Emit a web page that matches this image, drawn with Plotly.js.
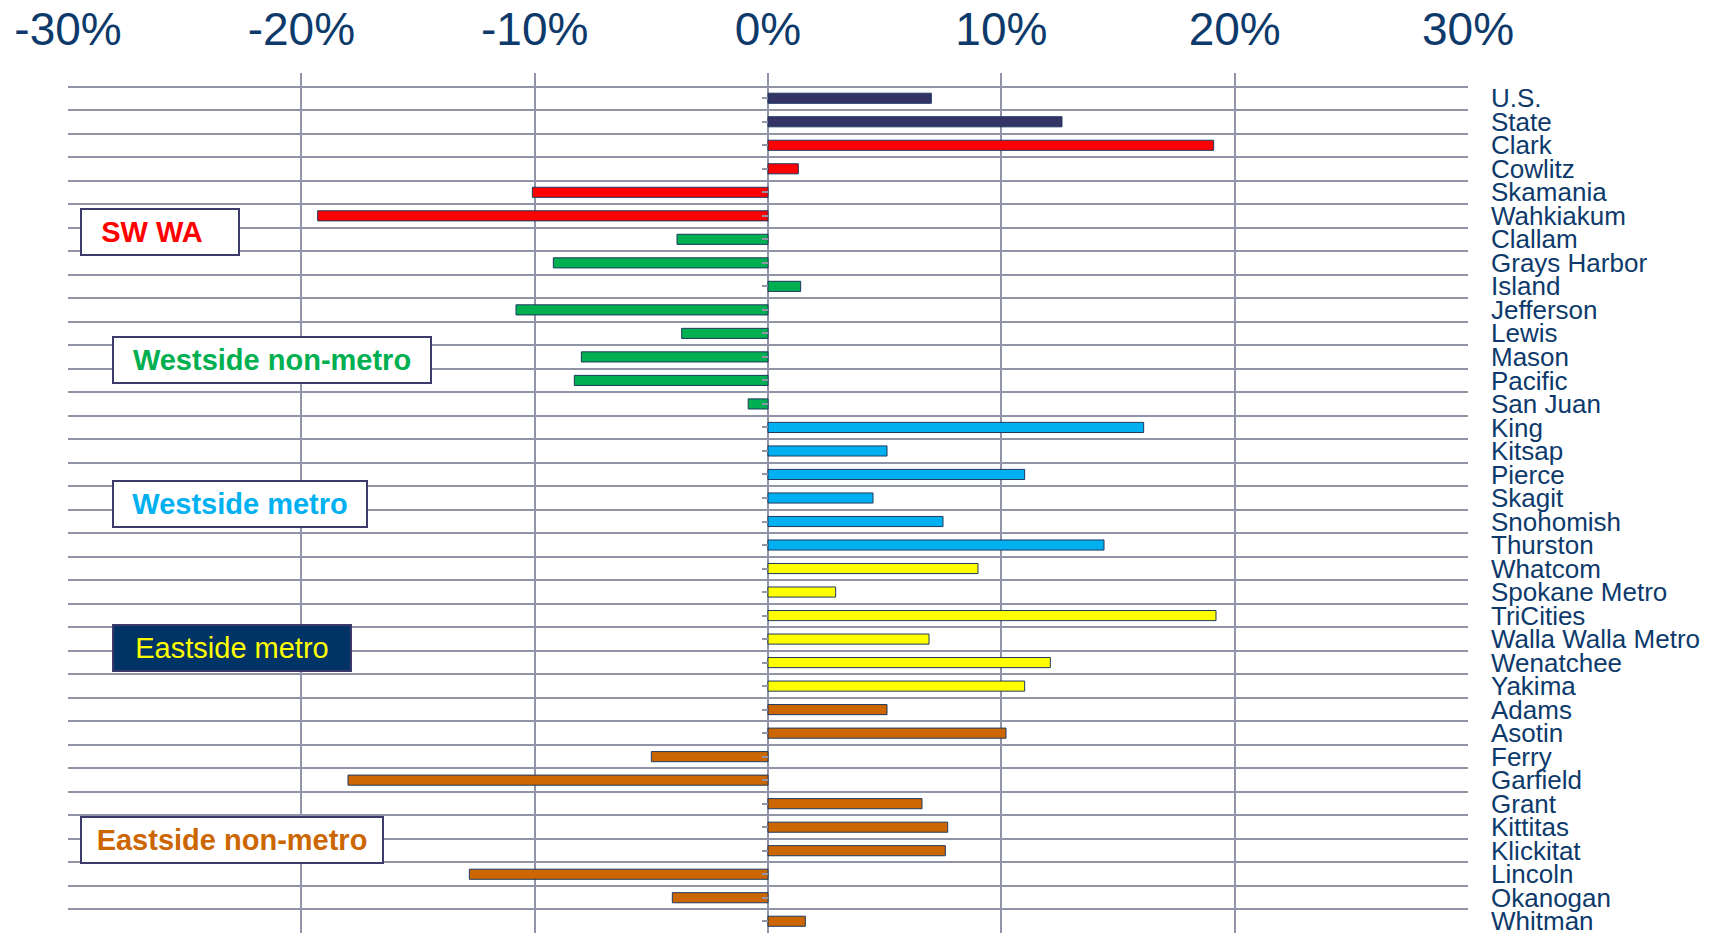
<!DOCTYPE html>
<html>
<head>
<meta charset="utf-8">
<script src="https://cdn.plot.ly/plotly-3.0.1.min.js"></script>
<style>
  html, body { margin: 0; padding: 0; background: #ffffff; }
  #chart { width: 1725px; height: 934px; }
</style>
</head>
<body>
<div id="chart"></div>
<script>
// ---- Data ----
const categories = [
  "U.S.", "State", "Clark", "Cowlitz", "Skamania", "Wahkiakum",
  "Clallam", "Grays Harbor", "Island", "Jefferson", "Lewis", "Mason", "Pacific", "San Juan",
  "King", "Kitsap", "Pierce", "Skagit", "Snohomish", "Thurston",
  "Whatcom", "Spokane Metro", "TriCities", "Walla Walla Metro", "Wenatchee", "Yakima",
  "Adams", "Asotin", "Ferry", "Garfield", "Grant", "Kittitas", "Klickitat", "Lincoln", "Okanogan", "Whitman"
];
const values = [
  0.070, 0.126, 0.191, 0.013, -0.101, -0.193,
  -0.039, -0.092, 0.014, -0.108, -0.037, -0.080, -0.083, -0.0085,
  0.161, 0.051, 0.110, 0.045, 0.075, 0.144,
  0.090, 0.029, 0.192, 0.069, 0.121, 0.110,
  0.051, 0.102, -0.050, -0.180, 0.066, 0.077, 0.076, -0.128, -0.041, 0.016
];
const groups = [
  "nation", "nation", "sw", "sw", "sw", "sw",
  "wnm", "wnm", "wnm", "wnm", "wnm", "wnm", "wnm", "wnm",
  "wm", "wm", "wm", "wm", "wm", "wm",
  "em", "em", "em", "em", "em", "em",
  "enm", "enm", "enm", "enm", "enm", "enm", "enm", "enm", "enm", "enm"
];
const groupColors = {
  nation: "#333366",
  sw: "#ff0000",
  wnm: "#00b050",
  wm: "#00b0f0",
  em: "#ffff00",
  enm: "#cc6600"
};
const tickValues = [-0.3, -0.2, -0.1, 0, 0.1, 0.2, 0.3];
const tickLabels = ["-30%", "-20%", "-10%", "0%", "10%", "20%", "30%"];
const groupLabels = ["SW WA", "Westside non-metro", "Westside metro", "Eastside metro", "Eastside non-metro"];

// ---- Layout geometry ----
const W = 1725, H = 934;
const M = { l: 68, r: 257, t: 73, b: 1 };
const pw = W - M.l - M.r, ph = H - M.t - M.b;
const px = x => (x - M.l) / pw;
const py = y => 1 - (y - M.t) / ph;

const navy = "#0d3a6b";
const gridCol = "#9094a6";

const barTrace = {
  type: "bar",
  orientation: "h",
  x: values,
  y: categories,
  marker: {
    color: groups.map(g => groupColors[g]),
    line: { color: "#1f3a60", width: 1 }
  },
  hoverinfo: "y+x",
  showlegend: false
};
// invisible trace to activate the small tick axis at 0%
const tickTrace = {
  type: "scatter",
  mode: "none",
  x: values,
  y: categories,
  yaxis: "y2",
  hoverinfo: "skip",
  showlegend: false
};

function box(text, left, top, right, bottom, color, bold, bg, shift) {
  return {
    xref: "paper", yref: "paper",
    x: px(left), y: py(top),
    xanchor: "left", yanchor: "top",
    text: bold ? "<b>" + text + "</b>" + (shift || "") : text + (shift || ""),
    showarrow: false,
    font: { family: "Liberation Sans, Arial, sans-serif", size: 29, color: color },
    bgcolor: bg,
    bordercolor: "#3b3a6b",
    borderwidth: 2,
    borderpad: 0,
    width: right - left - 4,
    height: bottom - top - 4,
    align: "center",
    valign: "middle"
  };
}

const layout = {
  width: W, height: H,
  margin: M,
  paper_bgcolor: "#ffffff",
  plot_bgcolor: "#ffffff",
  bargap: 0.57,
  xaxis: {
    side: "top",
    range: [-0.3, 0.3],
    tickmode: "array",
    tickvals: tickValues,
    ticktext: tickLabels,
    showgrid: true,
    gridcolor: gridCol,
    gridwidth: 2,
    zeroline: false,
    showline: false,
    ticks: "",
    ticklabelstandoff: 18,
    tickfont: { family: "Liberation Sans, Arial, sans-serif", size: 46, color: navy },
    fixedrange: true
  },
  yaxis: {
    type: "category",
    categoryorder: "array",
    categoryarray: categories,
    range: [35.5, -1.074],
    side: "right",
    tickmode: "linear",
    tick0: 0,
    dtick: 1,
    tickson: "boundaries",
    showgrid: true,
    gridcolor: gridCol,
    gridwidth: 2,
    ticks: "",
    showline: false,
    zeroline: false,
    ticklabelstandoff: 22,
    tickfont: { family: "Liberation Sans, Arial, sans-serif", size: 26, color: navy },
    fixedrange: true
  },
  yaxis2: {
    type: "category",
    categoryorder: "array",
    categoryarray: categories,
    overlaying: "y",
    matches: "y",
    anchor: "free",
    position: 0.5,
    side: "left",
    tickmode: "linear",
    tick0: 0,
    dtick: 1,
    ticks: "outside",
    ticklen: 6,
    tickwidth: 2,
    tickcolor: gridCol,
    showticklabels: false,
    showgrid: false,
    showline: false,
    zeroline: false,
    fixedrange: true
  },
  annotations: [
    box(groupLabels[0], 80, 208, 240, 256, "#ff0000", true, "#ffffff", "&nbsp;&nbsp;"),
    box(groupLabels[1], 112, 336, 432, 384, "#00b050", true, "#ffffff"),
    box(groupLabels[2], 112, 480, 368, 528, "#00b0f0", true, "#ffffff"),
    box(groupLabels[3], 112, 624, 352, 672, "#ffff00", false, "#003366"),
    box(groupLabels[4], 80, 816, 384, 864, "#cc6600", true, "#ffffff")
  ]
};

Plotly.newPlot("chart", [barTrace, tickTrace], layout, { displayModeBar: false, staticPlot: true });
</script>
</body>
</html>
